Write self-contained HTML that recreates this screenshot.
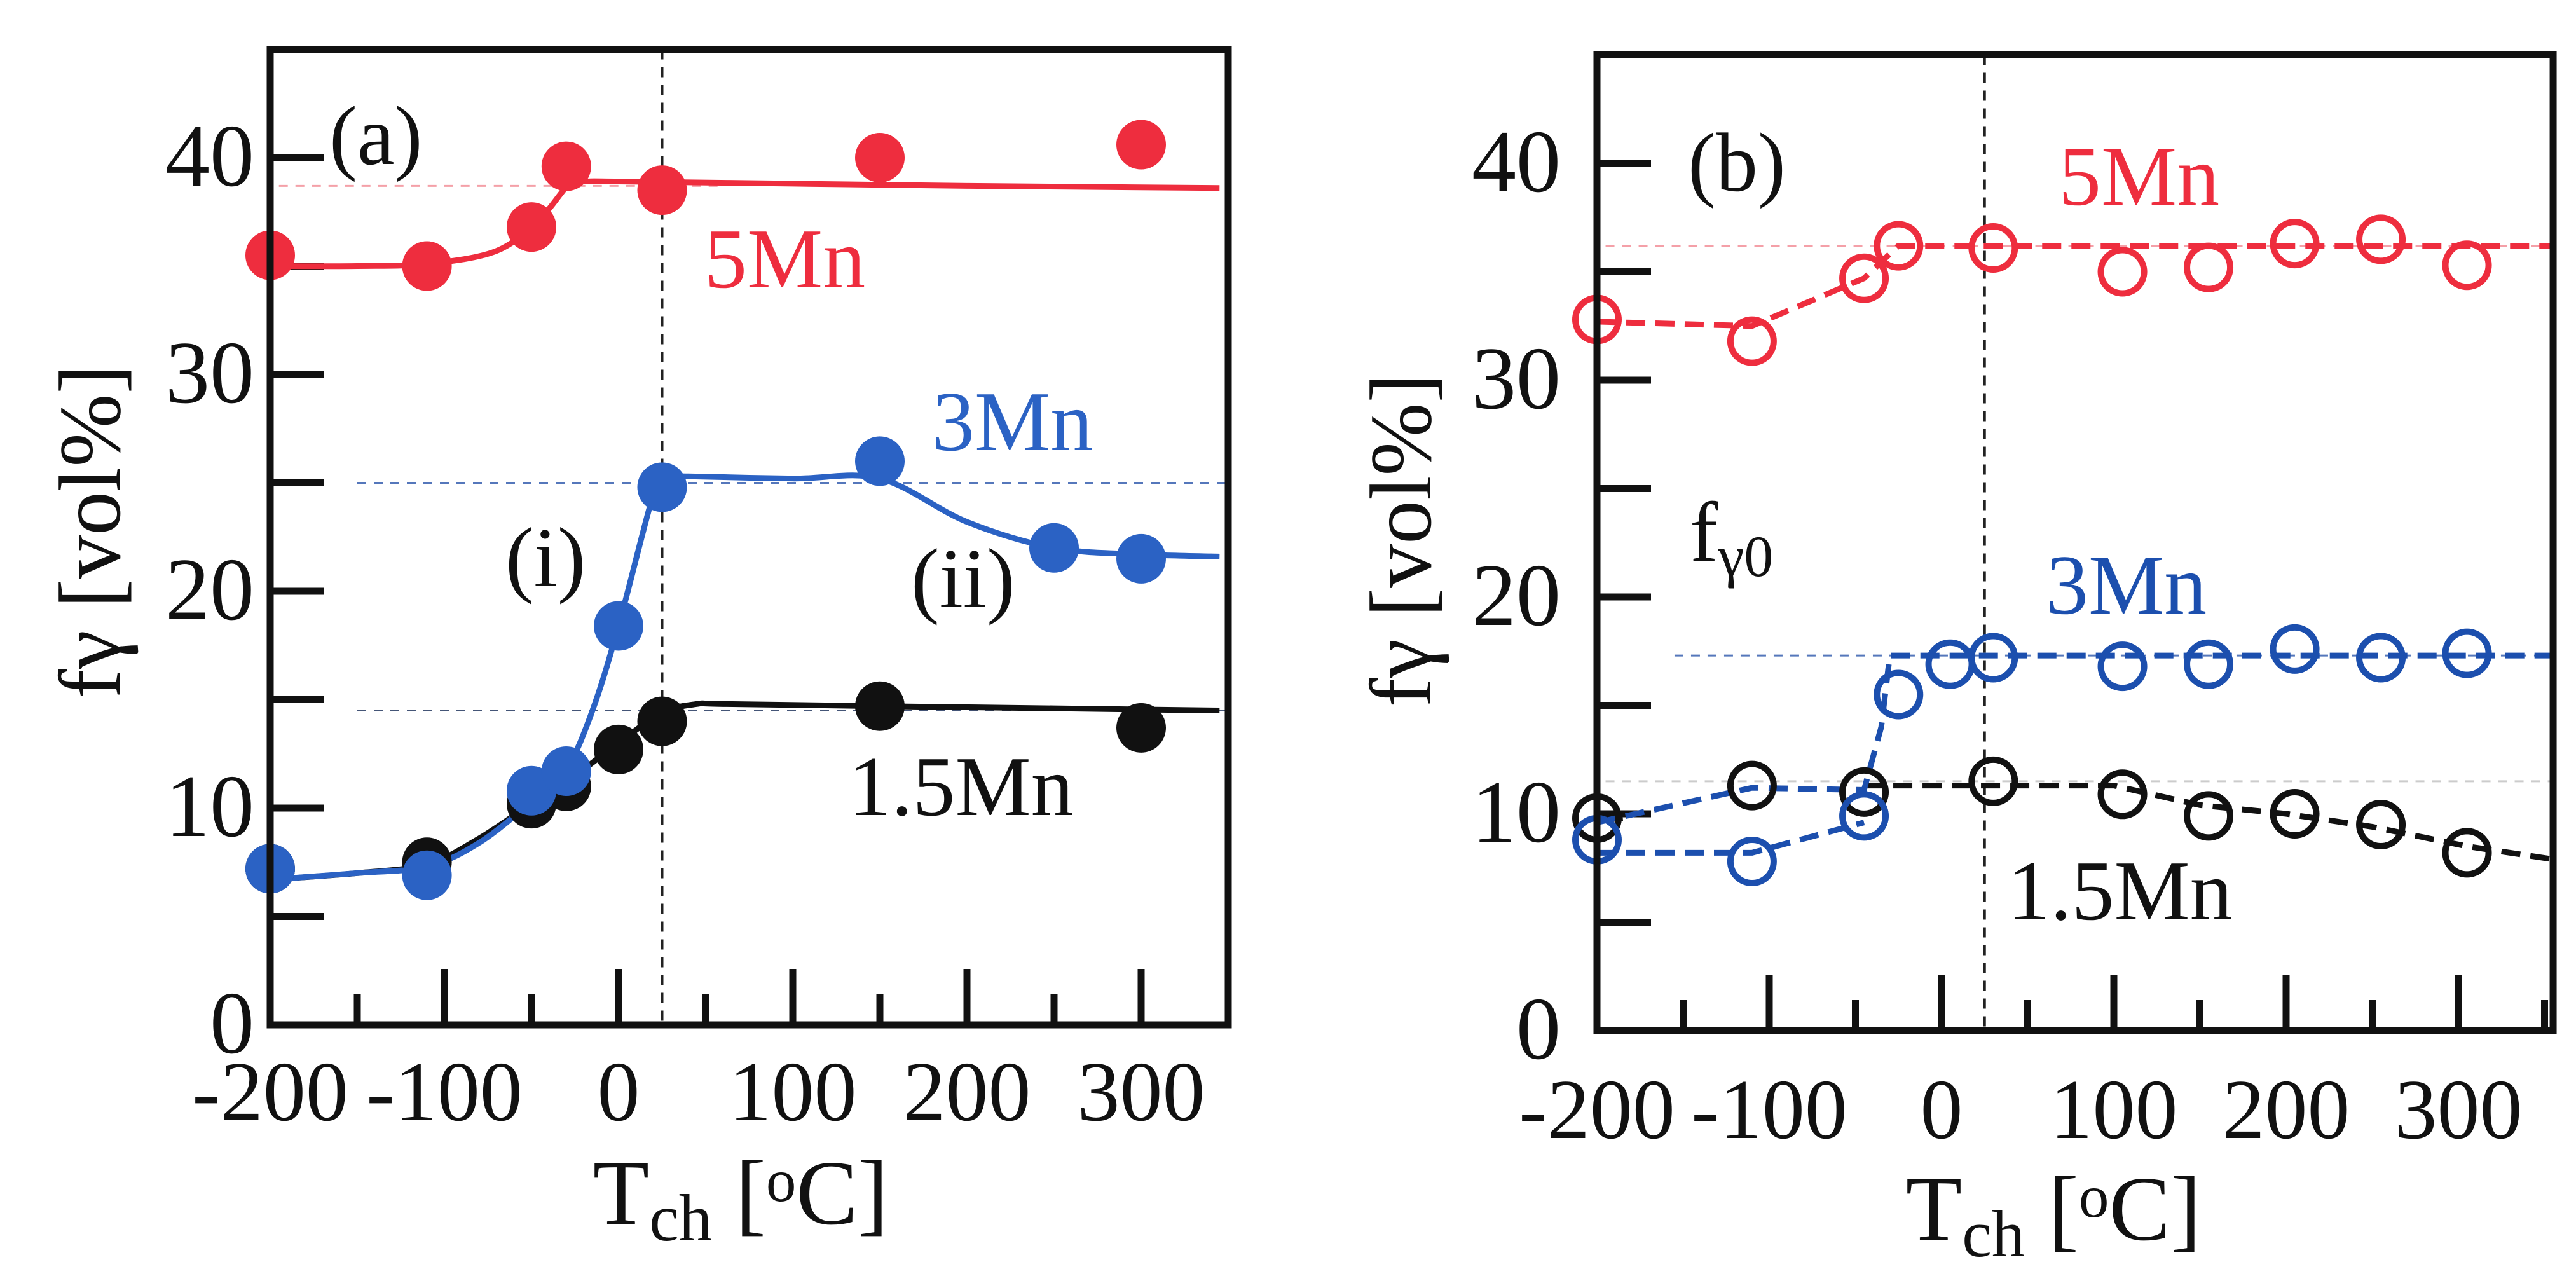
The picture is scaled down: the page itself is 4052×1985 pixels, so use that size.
<!DOCTYPE html>
<html><head><meta charset="utf-8"><style>
html,body{margin:0;padding:0;background:#fff}
svg{display:block}
text{font-family:"Liberation Serif",serif}
</style></head><body>
<svg id="fig" width="4052" height="1985" viewBox="0 0 4052 1985" xmlns="http://www.w3.org/2000/svg">
<g id="pa"></g>
<g id="pb"></g>
</svg>
<script>
// Panel (a) data: filled markers
const aRed = [[-200,35.5],[-110,35],[-50,36.8],[-30,39.6],[25,38.5],[150,40],[300,40.6]];
const aRedCurve = [[-200,35],[-150,35],[-110,35.1],[-70,35.7],[-45,37.2],[-28,38.8],[-18,38.9],[0,38.9],[100,38.8],[200,38.7],[345,38.6]];
const aBlue = [[-200,7.2],[-110,6.9],[-50,10.8],[-30,11.7],[0,18.4],[25,24.8],[150,26],[250,22],[300,21.5]];
const aBlueCurve = [[-200,6.7],[-150,7],[-110,7.3],[-80,8.4],[-50,10.3],[-30,11.8],[-15,14.5],[0,18.4],[22,25],[30,25.3],[40,25.3],[100,25.2],[150,25.2],[200,23.2],[250,22],[300,21.7],[345,21.6]];
const aBlack = [[-200,7.2],[-110,7.5],[-50,10.2],[-30,11],[0,12.7],[25,14],[150,14.7],[300,13.7]];
const aBlackCurve = [[-200,6.7],[-150,7],[-110,7.4],[-80,8.6],[-50,10.2],[-30,11.2],[0,13],[25,14.4],[45,14.8],[60,14.8],[150,14.7],[250,14.6],[345,14.5]];
// Panel (b) data: open markers
const bRed = [[-200,32.8],[-110,31.8],[-45,34.7],[-25,36.2],[30,36.1],[105,35],[155,35.2],[205,36.3],[255,36.5],[305,35.3]];
const bRedLine = [[-200,32.7],[-110,32.5],[-45,34.7],[-25,36.2],[355,36.2]];
const bBlue = [[-200,8.8],[-110,7.8],[-45,9.9],[-25,15.5],[5,16.9],[30,17.2],[105,16.8],[155,16.9],[205,17.6],[255,17.2],[305,17.4]];
const bBlueLine1 = [[-200,8.2],[-110,8.2],[-45,9.6]];
const bBlueLine2 = [[-200,9.6],[-110,11.2],[-45,11.1],[-35,14],[-30,17.3],[355,17.3]];
const bBlack = [[-200,9.8],[-110,11.3],[-45,11],[30,11.5],[105,10.9],[155,9.9],[205,10],[255,9.5],[305,8.2]];
const bBlackLine = [[-45,11.3],[100,11.3],[150,10.4],[200,10],[250,9.4],[305,8.5],[355,7.9]];
const xTicks = [-200,-100,0,100,200,300];
const yTicks = [0,10,20,30,40];

const NS="http://www.w3.org/2000/svg";
function mk(parent,tag,attrs){const e=document.createElementNS(NS,tag);for(const k in attrs)e.setAttribute(k,attrs[k]);parent.appendChild(e);return e;}
function txt(parent,x,y,s,size,fill,anchor){const t=mk(parent,'text',{x:x,y:y,'font-size':size,fill:fill,'text-anchor':anchor||'start'});t.textContent=s;return t;}

function panel(g,P){
  const X=v=>P.x0+(v+200)*P.sx, Y=v=>P.y0-v*P.sy;
  const L=X(-200), R=X(P.xmax), T=Y(45), B=Y(0);
  P.refs.forEach(r=>{const l=mk(g,'line',{x1:X(r[0]),x2:X(r[1]),y1:Y(r[2]),y2:Y(r[2]),stroke:r[3],'stroke-width':3,'stroke-dasharray':'14 12'});
    
    });
  const v=mk(g,'line',{x1:X(25),x2:X(25),y1:T,y2:B,stroke:'#222','stroke-width':4,'stroke-dasharray':'16 12'});
  
  
  for(let t=-200;t<=P.xmax;t+=50){const maj=(t%100===0);const l=mk(g,'line',{x1:X(t),x2:X(t),y1:B,y2:B-(maj?88:48),stroke:'#111','stroke-width':11});
    
    }
  for(let t=5;t<45;t+=5){const l=mk(g,'line',{x1:L,x2:L+85,y1:Y(t),y2:Y(t),stroke:'#111','stroke-width':11});
    
    }
  xTicks.forEach(t=>{const e=txt(g,X(t),P.xlabY,String(t),134,'#111','middle');
    
    });
  yTicks.forEach(t=>{const e=txt(g,P.ylabX,Y(t)+44,String(t),140,'#111','end');
    
    });
  const path=(pts,col,dash,smooth)=>{
    const q=pts.map(p=>[X(p[0]),Y(p[1])]);
    let d='M'+q[0][0]+' '+q[0][1];
    for(let i=0;i<q.length-1;i++){
      if(smooth){const p0=q[Math.max(0,i-1)],p1=q[i],p2=q[i+1],p3=q[Math.min(q.length-1,i+2)];
        const c1=[p1[0]+(p2[0]-p0[0])/6,p1[1]+(p2[1]-p0[1])/6],c2=[p2[0]-(p3[0]-p1[0])/6,p2[1]-(p3[1]-p1[1])/6];
        d+=`C${c1[0]} ${c1[1]} ${c2[0]} ${c2[1]} ${p2[0]} ${p2[1]}`;}
      else d+='L'+q[i+1][0]+' '+q[i+1][1];}
    const e=mk(g,'path',{d:d,fill:'none',stroke:col,'stroke-width':9,'stroke-dasharray':dash||'none','stroke-linejoin':'round'});
    
    };
  P.lines.forEach(l=>path(l[0],l[1],l[2],l[3]));
  P.pts.forEach(s=>{s[0].forEach(p=>{const c=mk(g,'circle',{cx:X(p[0]),cy:Y(p[1]),r:P.open?34:39,fill:P.open?'#fff':s[1],'fill-opacity':P.open?0:1,stroke:s[1],'stroke-width':P.open?10:0});
    
    });});
  const f=mk(g,'rect',{x:L,y:T,width:R-L,height:B-T,fill:'none',stroke:'#111','stroke-width':11});
  
  
  return {X,Y};
}

const red='#ee2d3e', blue='#2b62c4', blk='#111', oblue='#1c4fae';
const ga=document.getElementById('pa');
panel(ga,{x0:425,sx:2.74,y0:1612,sy:34.1,xmax:350,xlabY:1762,ylabX:400,
  refs:[[-195,60,38.7,'#f4a0a8'],[-150,350,25,'#5577bb'],[-150,350,14.5,'#445577']],
  lines:[[aRedCurve,red,null,true],[aBlackCurve,blk,null,true],[aBlueCurve,blue,null,true]],
  pts:[[aRed,red],[aBlack,blk],[aBlue,blue]]});
const gb=document.getElementById('pb');
panel(gb,{x0:2512,sx:2.71,y0:1621,sy:34.1,xmax:355,xlabY:1790,ylabX:2455,open:true,
  refs:[[-195,355,36.2,'#f4a0a8'],[-155,355,17.3,'#5577bb'],[-195,355,11.5,'#cccccc']],
  lines:[[bRedLine,red,'30 16'],[[[-200,9.7],[-185,9.8]],blk],[bBlackLine,blk,'30 16'],[bBlueLine1,oblue,'30 16'],[bBlueLine2,oblue,'30 16']],
  pts:[[bRed,red],[bBlack,blk],[bBlue,oblue]]});

function lab(g,x,y,s,size,fill,name){const e=txt(g,x,y,s,size,fill);return e;}
lab(ga,518,258,'(a)',132,'#111','panel-label-a');
lab(ga,1108,452,'5Mn',134,red,'label-5mn');
lab(ga,1466,708,'3Mn',134,blue,'label-3mn');
lab(ga,795,922,'(i)',134,'#111','label-i');
lab(ga,1433,955,'(ii)',134,'#111','label-ii');
lab(ga,1335,1282,'1.5Mn',134,'#111','label-1-5mn');
lab(gb,2655,300,'(b)',132,'#111','panel-label-b');
lab(gb,3238,322,'5Mn',134,red,'label-5mn');
const f0=lab(gb,2658,882,'f',134,'#111','label-f-gamma0');
const s0=mk(f0,'tspan',{'font-size':92,dy:24});s0.textContent='γ0';
lab(gb,3218,965,'3Mn',134,oblue,'label-3mn');
lab(gb,3158,1446,'1.5Mn',134,'#111','label-1-5mn');
function ytitle(g,x,y){const t=mk(g,'text',{x:0,y:0,'font-size':138,fill:'#111','text-anchor':'middle',transform:`translate(${x},${y}) rotate(-90)`});
  t.textContent='fγ [vol%]';
  
  }
ytitle(ga,188,836); ytitle(gb,2250,850);
function xtitle(g,x,y){const t=mk(g,'text',{x:x,y:y,'font-size':145,fill:'#111','text-anchor':'middle'});
  
  
  const a=mk(t,'tspan',{});a.textContent='T';
  const b=mk(t,'tspan',{'font-size':105,dy:26});b.textContent='ch';
  const c=mk(t,'tspan',{dy:-26});c.textContent=' [';
  const d=mk(t,'tspan',{'font-size':95,dy:-36});d.textContent='o';
  const e=mk(t,'tspan',{dy:36});e.textContent='C]';}
xtitle(ga,1165,1925); xtitle(gb,3230,1950);
</script>
</body></html>
